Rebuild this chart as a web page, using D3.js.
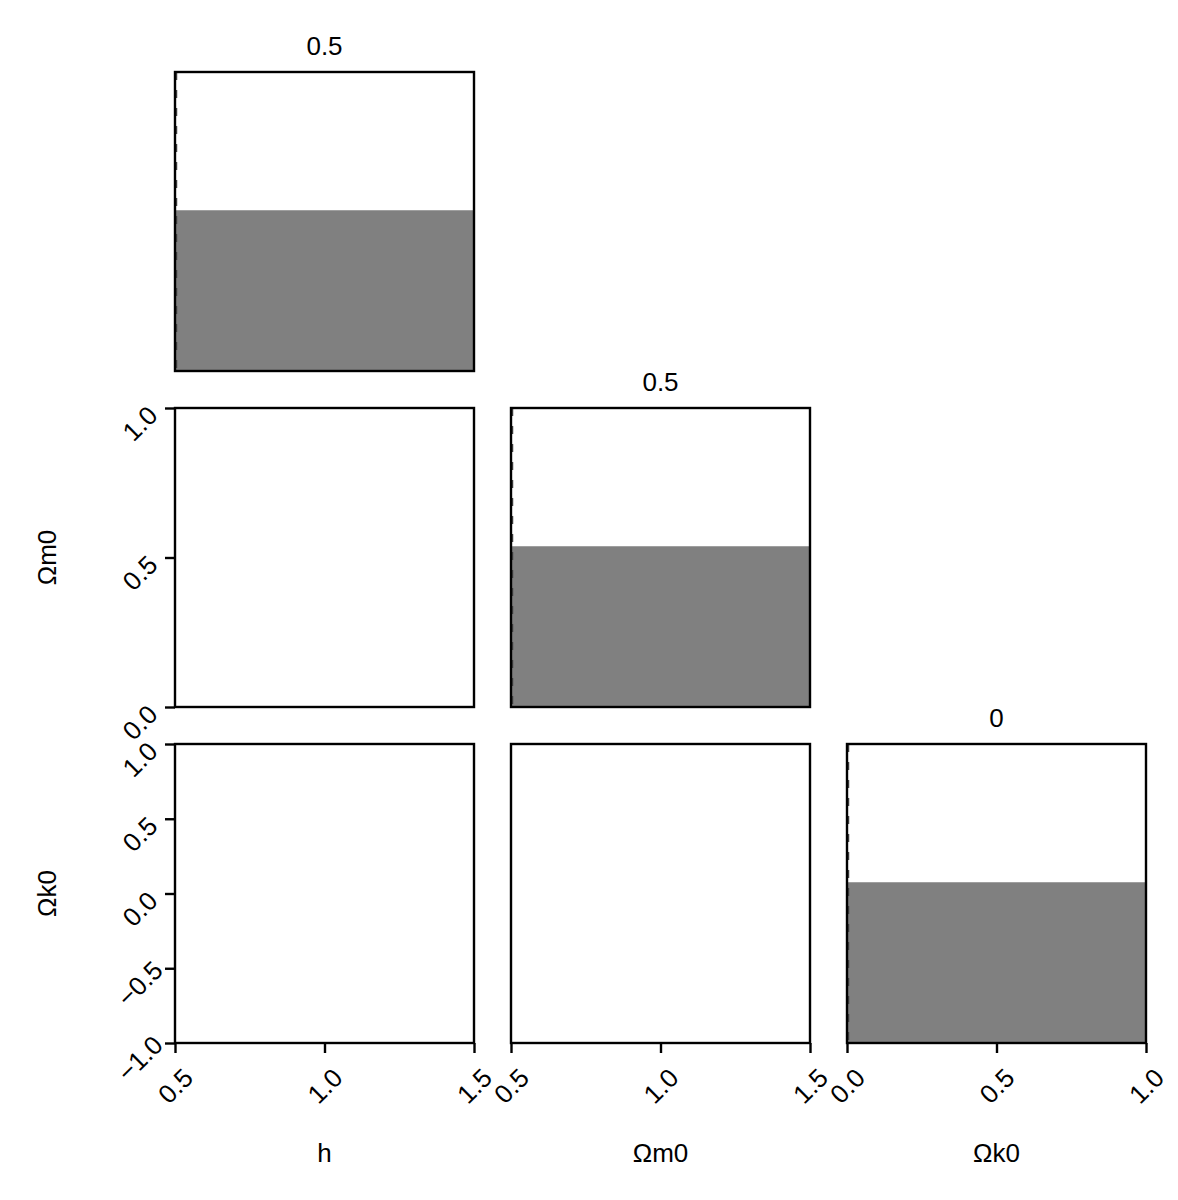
<!DOCTYPE html>
<html>
<head>
<meta charset="utf-8">
<script src="https://cdn.jsdelivr.net/npm/d3@7"></script>
<style>
  body { margin: 0; background: #fff; }
  svg text { font-family: "Liberation Sans", Arial, sans-serif; fill: #000; }
</style>
</head>
<body>
<svg id="chart" width="1178" height="1200"></svg>
<script>
// Corner plot: 3 parameters, diagonal histograms, empty lower panels
const params = ["h", "Ωm0", "Ωk0"];
const xDomains = [[0.5, 1.5], [0.5, 1.5], [0, 1]];
const yDomains = [null, [0, 1], [-1, 1]];
const xTicks = [[0.5, 1.0, 1.5], [0.5, 1.0, 1.5], [0, 0.5, 1.0]];
const yTicks = [null, [0, 0.5, 1.0], [-1.0, -0.5, 0, 0.5, 1.0]];
// one histogram bin per parameter: [x0, x1, density]
const histBins = [[0.5, 1.5, 1], [0.5, 1.5, 1], [0, 1, 1]];
const histMax = 1.86;
const medians = [0.5, 0.5, 0];
const titles = ["0.5", "0.5", "0"];

const margin = {top: 72, left: 175};
const cell = 299;
const gap = 37;
const fontSize = "26px";
const n = params.length;

const svg = d3.select("#chart");
const fmt = d => d3.format(".1f")(d).replace("-", "\u2212");

function panelX(i) { return margin.left + i * (cell + gap); }
function panelY(j) { return margin.top + j * (cell + gap); }

for (let row = 0; row < n; row++) {
    for (let col = 0; col <= row; col++) {
        const g = svg.append("g")
            .attr("transform", `translate(${panelX(col)},${panelY(row)})`);

        const x = d3.scaleLinear().domain(xDomains[col]).range([0, cell]);

        if (row === col) {
            // diagonal: histogram
            const y = d3.scaleLinear().domain([0, histMax]).range([cell, 0]);
            const b = histBins[col];
            g.append("rect")
                .attr("x", x(b[0]))
                .attr("y", y(b[2]))
                .attr("width", x(b[1]) - x(b[0]))
                .attr("height", y(0) - y(b[2]))
                .attr("fill", "#808080");

            g.append("line")
                .attr("x1", x(medians[col]) + 1.5)
                .attr("x2", x(medians[col]) + 1.5)
                .attr("y1", 0)
                .attr("y2", cell)
                .attr("stroke", "#444")
                .attr("stroke-width", 1.5)
                .attr("stroke-dasharray", "8,10");

            g.append("text")
                .attr("x", cell / 2)
                .attr("y", -17)
                .attr("text-anchor", "middle")
                .style("font-size", fontSize)
                .text(titles[col]);
        }

        // frame
        g.append("rect")
            .attr("width", cell)
            .attr("height", cell)
            .attr("fill", "none")
            .attr("stroke", "#000")
            .attr("stroke-width", 2.4);

        // x axis on bottom row
        if (row === n - 1) {
            const ax = g.append("g")
                .attr("transform", `translate(0,${cell})`)
                .call(d3.axisBottom(x).tickValues(xTicks[col]).tickFormat(fmt)
                    .tickSize(10).tickSizeOuter(0));
            ax.select(".domain").remove();
            ax.selectAll("line").attr("stroke", "#000").attr("stroke-width", 2.4);
            ax.selectAll("text")
                .attr("y", null).attr("dy", null)
                .attr("transform", "translate(0,43) rotate(-45)")
                .attr("text-anchor", "middle")
                .attr("dominant-baseline", "central")
                .style("font-size", fontSize)
                .attr("fill", "#000");
        }

        // y axis on left column (below the first row)
        if (col === 0 && row > 0) {
            const y = d3.scaleLinear().domain(yDomains[row]).range([cell, 0]);
            const ay = g.append("g")
                .call(d3.axisLeft(y).tickValues(yTicks[row]).tickFormat(fmt)
                    .tickSize(10).tickSizeOuter(0));
            ay.select(".domain").remove();
            ay.selectAll("line").attr("stroke", "#000").attr("stroke-width", 2.4);
            ay.selectAll("text")
                .attr("x", null).attr("dy", null)
                .attr("transform", "translate(-35,15) rotate(-45)")
                .attr("text-anchor", "middle")
                .attr("dominant-baseline", "central")
                .style("font-size", fontSize)
                .attr("fill", "#000");
        }
    }
}

// axis labels
params.forEach((p, i) => {
    svg.append("text")
        .attr("x", panelX(i) + cell / 2)
        .attr("y", 1153)
        .attr("text-anchor", "middle")
        .attr("dominant-baseline", "central")
        .style("font-size", fontSize)
        .text(p);

    if (i > 0) {
        svg.append("text")
            .attr("transform", `translate(47,${panelY(i) + cell / 2}) rotate(-90)`)
            .attr("text-anchor", "middle")
            .attr("dominant-baseline", "central")
            .style("font-size", fontSize)
            .text(p);
    }
});
</script>
</body>
</html>
